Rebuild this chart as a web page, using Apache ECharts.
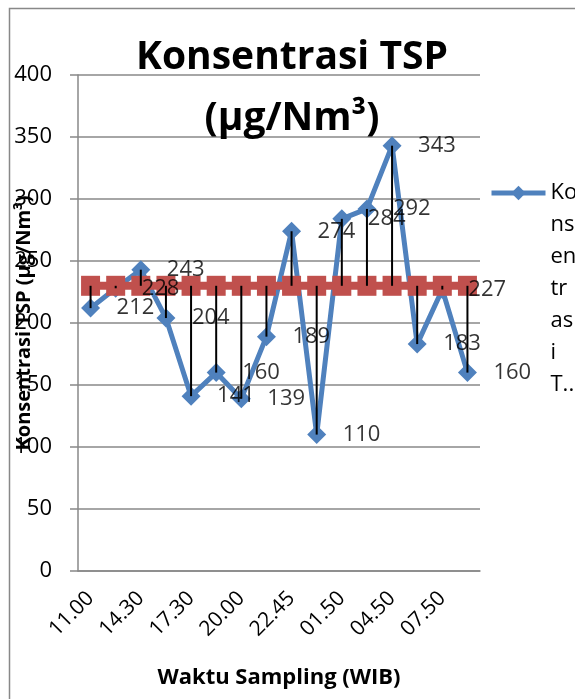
<!DOCTYPE html>
<html>
<head>
<meta charset="utf-8">
<script src="https://cdn.jsdelivr.net/npm/echarts@6/dist/echarts.min.js"></script>
<style>
html,body{margin:0;padding:0;background:#fff;}
#chart{width:575px;height:699px;}
</style>
</head>
<body>
<div id="chart"></div>
<script>
const categories = ['11.00','12.45','14.30','16.00','17.30','18.45','20.00','21.20','22.45','00.20','01.50','03.20','04.50','06.20','07.50','09.20'];
const tspValues = [212, 228, 243, 204, 141, 160, 139, 189, 274, 110, 284, 292, 343, 183, 227, 160];
const standardValues = [230, 230, 230, 230, 230, 230, 230, 230, 230, 230, 230, 230, 230, 230, 230, 230];
const yMin = 0, yMax = 400, yStep = 50;
const seriesName = 'Konsentrasi TSP';
const standardName = 'Baku Mutu';
const legendLines = ['Ko', 'ns', 'en', 'tr', 'as', 'i', 'T..'];

const FONT = '"Open Sans", sans-serif';
const chart = echarts.init(document.getElementById('chart'));

const hiLo = categories.map((c, i) => [i, tspValues[i], standardValues[i]]);
// pad with blank lines above so the first wrapped line sits beside the legend icon
const legendText = legendLines.slice(1).map(() => ' ').concat(legendLines).join('\n');

chart.setOption({
  animation: false,
  backgroundColor: '#fff',
  textStyle: {fontFamily: FONT},
  title: {
    text: 'Konsentrasi TSP\n(µg/Nm³)',
    left: 292,
    textAlign: 'center',
    top: 27,
    padding: 0,
    textStyle: {fontFamily: FONT, fontWeight: 'bold', fontSize: 39, lineHeight: 61, color: '#000'}
  },
  legend: {
    data: [seriesName],
    left: 484,
    top: -20,
    itemWidth: 54,
    itemHeight: 18,
    itemGap: 5,
    lineStyle: {width: 5},
    formatter: () => legendText,
    textStyle: {fontFamily: FONT, fontSize: 22, lineHeight: 32, color: '#000'}
  },
  graphic: [{
    type: 'rect', silent: true, z: -1,
    shape: {x: 9.5, y: 8.5, width: 620, height: 720},
    style: {fill: 'none', stroke: '#888', lineWidth: 1.5}
  }],
  grid: {left: 78, right: 95, top: 75, bottom: 128, containLabel: false, outerBoundsMode: 'none'},
  xAxis: {
    type: 'category',
    data: categories,
    boundaryGap: true,
    name: 'Waktu Sampling (WIB)',
    nameLocation: 'middle',
    nameGap: 96,
    nameMoveOverlap: false,
    nameTextStyle: {fontFamily: FONT, fontWeight: 'bold', fontSize: 22, color: '#000'},
    axisLine: {lineStyle: {color: '#888', width: 1.5}},
    axisTick: {show: false},
    axisLabel: {interval: 1, rotate: 45, fontSize: 21, color: '#000', fontFamily: FONT, margin: 24}
  },
  yAxis: {
    type: 'value',
    min: yMin, max: yMax, interval: yStep,
    name: 'Konsentrasi TSP (µg/Nm³)',
    nameLocation: 'middle',
    nameGap: 44,
    nameMoveOverlap: false,
    nameTextStyle: {fontFamily: FONT, fontWeight: 'bold', fontSize: 20, color: '#000'},
    axisLine: {show: true, lineStyle: {color: '#888', width: 1.5}},
    axisTick: {show: true, length: 8, lineStyle: {color: '#888', width: 1.5}},
    axisLabel: {fontSize: 22, color: '#000', fontFamily: FONT, margin: 26},
    splitLine: {lineStyle: {color: '#888', width: 1.5}}
  },
  series: [
    {
      name: seriesName,
      type: 'line',
      data: tspValues,
      z: 2,
      symbol: 'diamond',
      symbolSize: 19,
      showAllSymbol: true,
      lineStyle: {color: '#4F81BD', width: 5},
      itemStyle: {color: '#4F81BD'},
      label: {show: false}
    },
    {
      name: standardName,
      type: 'line',
      data: standardValues,
      z: 3,
      symbol: 'rect',
      symbolSize: [19, 20],
      showAllSymbol: true,
      lineStyle: {color: '#C0504D', width: 8},
      itemStyle: {color: '#C0504D'}
    },
    {
      name: 'hilo',
      type: 'custom',
      z: 4,
      data: hiLo,
      encode: {x: 0, y: [1, 2]},
      renderItem: (params, api) => {
        const a = api.coord([api.value(0), api.value(1)]);
        const b = api.coord([api.value(0), api.value(2)]);
        return {type: 'line', shape: {x1: a[0], y1: a[1], x2: b[0], y2: b[1]}, style: {stroke: '#000', lineWidth: 2}};
      }
    },
    {
      name: 'labels',
      type: 'scatter',
      z: 5,
      data: tspValues,
      symbol: 'diamond',
      symbolSize: 16,
      itemStyle: {color: 'rgba(0,0,0,0)'},
      label: {show: true, position: 'right', distance: 18, fontSize: 22, color: '#000', fontFamily: FONT},
      silent: true
    }
  ]
});
</script>
</body>
</html>
